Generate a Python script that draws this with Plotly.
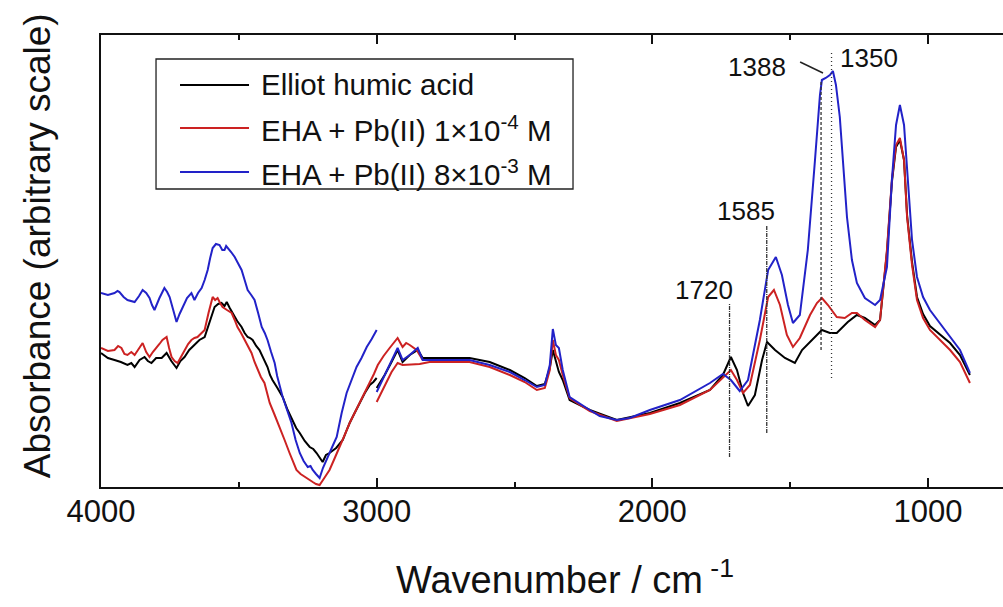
import plotly.graph_objects as go

# ---- Elliot humic acid (two recorded ranges) ----
eha_hi_wn = [4000, 3975, 3951, 3928, 3904, 3890, 3878, 3860, 3842, 3830, 3817, 3800, 3780,
             3770, 3762, 3745, 3726, 3712, 3697, 3680, 3661, 3643, 3624, 3606, 3588, 3575,
             3563, 3552, 3544, 3533, 3523, 3506, 3490, 3479, 3468, 3459, 3450, 3437, 3425,
             3410, 3396, 3387, 3378, 3360, 3341, 3323, 3305, 3292, 3279, 3261, 3243, 3230,
             3218, 3207, 3196, 3184, 3171, 3147, 3123, 3110, 3098, 3080, 3062, 3043, 3025,
             3012, 3000]
eha_hi_a = [1.35, 1.30, 1.28, 1.26, 1.23, 1.25, 1.21, 1.28, 1.31, 1.27, 1.25, 1.30, 1.30,
            1.33, 1.35, 1.27, 1.20, 1.27, 1.31, 1.38, 1.43, 1.48, 1.51, 1.65, 1.81, 1.84,
            1.85, 1.82, 1.86, 1.80, 1.75, 1.67, 1.61, 1.55, 1.51, 1.50, 1.48, 1.42, 1.38,
            1.30, 1.21, 1.13, 1.08, 1.00, 0.91, 0.78, 0.68, 0.60, 0.55, 0.47, 0.41, 0.39,
            0.35, 0.30, 0.26, 0.33, 0.35, 0.40, 0.48, 0.57, 0.65, 0.75, 0.85, 0.95, 1.03,
            1.06, 1.10]
eha_lo_wn = [3000, 2971, 2946, 2924, 2906, 2880, 2851, 2833, 2771, 2663, 2590, 2517, 2463,
             2419, 2390, 2372, 2361, 2350, 2339, 2325, 2300, 2227, 2129, 2009, 1900, 1791,
             1744, 1715, 1693, 1671, 1653, 1628, 1602, 1584, 1555, 1519, 1483, 1457, 1428,
             1385, 1356, 1331, 1291, 1258, 1229, 1192, 1174, 1149, 1131, 1116, 1102, 1087,
             1076, 1058, 1040, 1018, 993, 920, 884, 848]
eha_lo_a = [1.00, 1.13, 1.26, 1.38, 1.26, 1.33, 1.38, 1.30, 1.30, 1.30, 1.26, 1.18, 1.10,
            1.02, 1.04, 1.20, 1.38, 1.28, 1.16, 1.08, 0.88, 0.78, 0.68, 0.75, 0.85, 0.98,
            1.13, 1.31, 1.18, 0.95, 0.82, 0.93, 1.28, 1.46, 1.38, 1.30, 1.25, 1.38, 1.46,
            1.58, 1.55, 1.55, 1.66, 1.73, 1.70, 1.63, 1.68, 2.36, 3.06, 3.41, 3.48, 3.28,
            2.73, 2.26, 1.91, 1.74, 1.62, 1.45, 1.33, 1.13]

# ---- EHA + Pb(II) 1e-4 M ----
pb4_hi_wn = [4000, 3975, 3951, 3938, 3926, 3915, 3904, 3890, 3878, 3862, 3849, 3836, 3824,
             3812, 3799, 3788, 3777, 3762, 3753, 3744, 3733, 3722, 3710, 3697, 3684, 3672,
             3661, 3650, 3637, 3624, 3610, 3595, 3586, 3577, 3568, 3559, 3543, 3526, 3515,
             3505, 3492, 3479, 3466, 3454, 3443, 3432, 3420, 3407, 3398, 3388, 3370, 3352,
             3334, 3316, 3303, 3291, 3276, 3261, 3246, 3232, 3220, 3207, 3190, 3171, 3152,
             3134, 3116, 3098, 3080, 3062, 3043, 3025, 3010, 2996, 2975, 2953, 2938, 2924,
             2906, 2893, 2880, 2867, 2855, 2833]
pb4_hi_a = [1.40, 1.37, 1.38, 1.42, 1.40, 1.34, 1.33, 1.36, 1.33, 1.40, 1.45, 1.36, 1.31,
            1.36, 1.40, 1.44, 1.48, 1.51, 1.40, 1.31, 1.27, 1.25, 1.31, 1.38, 1.44, 1.48,
            1.50, 1.51, 1.55, 1.58, 1.75, 1.91, 1.88, 1.90, 1.85, 1.81, 1.78, 1.75, 1.68,
            1.61, 1.55, 1.48, 1.42, 1.35, 1.26, 1.18, 1.11, 1.05, 0.95, 0.85, 0.73, 0.61,
            0.48, 0.35, 0.26, 0.18, 0.14, 0.11, 0.08, 0.06, 0.04, 0.03, 0.10, 0.18, 0.30,
            0.41, 0.53, 0.65, 0.75, 0.85, 0.95, 1.05, 1.14, 1.23, 1.32, 1.40, 1.45, 1.50,
            1.41, 1.45, 1.43, 1.40, 1.38, 1.28]
pb4_lo_wn = [3000, 2971, 2946, 2924, 2906, 2844, 2808, 2663, 2590, 2517, 2463, 2419, 2390,
             2372, 2361, 2350, 2339, 2325, 2300, 2227, 2129, 2009, 1900, 1791, 1744, 1715,
             1693, 1671, 1646, 1610, 1580, 1559, 1537, 1512, 1490, 1465, 1428, 1403, 1385,
             1363, 1331, 1302, 1276, 1258, 1229, 1192, 1174, 1149, 1131, 1116, 1102, 1087,
             1076, 1058, 1040, 1018, 993, 920, 884, 848]
pb4_lo_a = [0.86, 1.03, 1.16, 1.25, 1.23, 1.24, 1.26, 1.26, 1.21, 1.13, 1.06, 0.98, 1.00,
            1.18, 1.48, 1.33, 1.28, 1.13, 0.90, 0.77, 0.67, 0.74, 0.83, 0.98, 1.10, 1.18,
            1.08, 0.95, 1.03, 1.48, 1.91, 1.98, 1.83, 1.53, 1.41, 1.50, 1.73, 1.85, 1.90,
            1.83, 1.71, 1.70, 1.75, 1.75, 1.68, 1.61, 1.68, 2.38, 3.08, 3.43, 3.50, 3.28,
            2.71, 2.23, 1.88, 1.70, 1.58, 1.38, 1.26, 1.05]

# ---- EHA + Pb(II) 8e-3 M ----
pb3_hi_wn = [4000, 3975, 3951, 3940, 3933, 3918, 3904, 3890, 3878, 3862, 3849, 3836, 3824,
             3815, 3806, 3788, 3770, 3760, 3751, 3738, 3726, 3715, 3704, 3688, 3672, 3666,
             3661, 3648, 3635, 3624, 3613, 3604, 3595, 3583, 3570, 3560, 3552, 3546, 3541,
             3528, 3515, 3502, 3490, 3479, 3468, 3455, 3443, 3430, 3417, 3406, 3396, 3383,
             3370, 3361, 3352, 3346, 3341, 3325, 3309, 3294, 3279, 3265, 3250, 3240, 3232,
             3220, 3207, 3195, 3181, 3163, 3145, 3127, 3109, 3091, 3073, 3055, 3036, 3018,
             3000]
pb3_hi_a = [1.95, 1.93, 1.95, 1.97, 1.96, 1.91, 1.88, 1.87, 1.86, 1.92, 1.98, 1.95, 1.90,
            1.83, 1.78, 1.90, 2.00, 1.96, 1.91, 1.78, 1.66, 1.74, 1.80, 1.90, 1.95, 1.91,
            1.88, 1.95, 2.00, 2.08, 2.18, 2.30, 2.40, 2.44, 2.43, 2.38, 2.38, 2.42, 2.40,
            2.36, 2.31, 2.25, 2.18, 2.08, 1.98, 1.93, 1.88, 1.75, 1.61, 1.55, 1.48, 1.36,
            1.25, 1.12, 1.01, 0.96, 0.91, 0.78, 0.65, 0.48, 0.35, 0.27, 0.21, 0.22, 0.18,
            0.14, 0.10, 0.20, 0.28, 0.40, 0.51, 0.75, 0.95, 1.08, 1.21, 1.30, 1.41, 1.49,
            1.58]
pb3_lo_wn = [3000, 2971, 2946, 2924, 2906, 2880, 2851, 2833, 2771, 2663, 2590, 2517, 2463,
             2419, 2390, 2372, 2361, 2350, 2339, 2325, 2300, 2263, 2227, 2191, 2129, 2082,
             2009, 1900, 1791, 1744, 1715, 1683, 1653, 1610, 1580, 1552, 1530, 1508, 1490,
             1465, 1436, 1410, 1392, 1385, 1371, 1356, 1345, 1334, 1320, 1294, 1276, 1258,
             1229, 1192, 1174, 1149, 1131, 1116, 1102, 1087, 1073, 1058, 1040, 1018, 993,
             931, 884, 848]
pb3_lo_a = [0.96, 1.13, 1.28, 1.40, 1.28, 1.33, 1.40, 1.28, 1.28, 1.28, 1.23, 1.16, 1.08,
            1.01, 1.03, 1.23, 1.59, 1.43, 1.40, 1.18, 0.91, 0.84, 0.78, 0.72, 0.68, 0.70,
            0.78, 0.88, 1.05, 1.14, 1.08, 0.97, 1.08, 1.68, 2.18, 2.31, 2.13, 1.83, 1.65,
            1.73, 2.38, 3.28, 3.93, 4.08, 4.10, 4.13, 4.17, 4.03, 3.71, 2.71, 2.28, 2.05,
            1.90, 1.83, 1.88, 2.21, 3.08, 3.63, 3.83, 3.63, 3.05, 2.48, 2.11, 1.91, 1.78,
            1.55, 1.38, 1.15]

# ---- band markers ----
band_wn = [1720, 1585, 1388, 1350]
band_top = [1.85, 2.63, 4.08, 4.35]
band_bottom = [0.31, 0.55, 1.38, 1.10]
band_dash = ["4px,1px,1px,1px", "4px,1px,1px,1px", "3px,2px", "1px,3px"]
band_label_wn = [1813, 1661, 1621, 1214]
band_label_a = [1.98, 2.77, 4.21, 4.30]

series_names = ["Elliot humic acid",
                "EHA + Pb(II) 1×10<sup>-4</sup> M",
                "EHA + Pb(II) 8×10<sup>-3</sup> M"]
series_colors = ["#000000", "#cc2222", "#2222c8"]

FONT = "Liberation Sans, Arial, sans-serif"

fig = go.Figure()

segments = [
    (eha_hi_wn, eha_hi_a, 0), (eha_lo_wn, eha_lo_a, 0),
    (pb4_hi_wn, pb4_hi_a, 1), (pb4_lo_wn, pb4_lo_a, 1),
    (pb3_hi_wn, pb3_hi_a, 2), (pb3_lo_wn, pb3_lo_a, 2),
]
for wn, a, k in segments:
    fig.add_trace(go.Scatter(
        x=wn, y=a, mode="lines", name=series_names[k], showlegend=False,
        line=dict(color=series_colors[k], width=2),
    ))

# vertical band markers
for wn, y0, y1, dash in zip(band_wn, band_bottom, band_top, band_dash):
    fig.add_shape(type="line", xref="x", yref="y", x0=wn, x1=wn, y0=y0, y1=y1,
                  line=dict(color="#333333", width=1.3, dash=dash))

# band labels
for wn, lx, ly in zip(band_wn, band_label_wn, band_label_a):
    fig.add_annotation(x=lx, y=ly, xref="x", yref="y", text=str(wn), showarrow=False,
                       font=dict(family=FONT, size=26, color="#111111"))

# leader for the 1388 shoulder
fig.add_shape(type="line", xref="x", yref="y", x0=1464, y0=4.26, x1=1381, y1=4.15,
              line=dict(color="#222222", width=1.5))

# legend box drawn in paper space
fig.add_shape(type="rect", xref="paper", yref="paper", x0=0.061, x1=0.5233,
              y0=0.6593, y1=0.9469, line=dict(color="#222222", width=1.3),
              fillcolor="white", layer="above")
legend_rows = [0.8894, 0.7942, 0.6969]
for name, color, yrow in zip(series_names, series_colors, legend_rows):
    fig.add_shape(type="line", xref="paper", yref="paper", x0=0.0876, x1=0.1641,
                  y0=yrow, y1=yrow, line=dict(color=color, width=2), layer="above")
    fig.add_annotation(x=0.1752, y=yrow, xref="paper", yref="paper", text=name,
                       showarrow=False, xanchor="left", yanchor="middle",
                       font=dict(family=FONT, size=29.5, color="#111111"))

# axis titles
fig.add_annotation(x=0.514, y=-0.20, xref="paper", yref="paper",
                   text="Wavenumber / cm<sup> -1</sup>", showarrow=False,
                   xanchor="center", yanchor="middle",
                   font=dict(family=FONT, size=38, color="#111111"))
fig.add_annotation(x=-0.071, y=0.535, xref="paper", yref="paper",
                   text="Absorbance (arbitrary scale)", showarrow=False, textangle=-90,
                   xanchor="center", yanchor="middle",
                   font=dict(family=FONT, size=37, color="#111111"))

fig.update_layout(
    width=1003, height=607,
    margin=dict(l=101, r=0, t=35, b=120),
    paper_bgcolor="white", plot_bgcolor="white",
    showlegend=False,
    font=dict(family=FONT, color="#111111"),
)
fig.update_xaxes(
    range=[4000, 728], showline=True, linecolor="#111111", linewidth=2,
    mirror="ticks", ticks="inside", ticklen=9, tickwidth=2, tickcolor="#111111",
    tick0=0, dtick=1000, showgrid=False, zeroline=False, ticklabelstandoff=-4,
    tickfont=dict(family=FONT, size=31, color="#111111"),
    minor=dict(ticks="inside", ticklen=5, tickwidth=2, tickcolor="#111111", dtick=500,
               showgrid=False),
)
fig.update_yaxes(
    range=[0.01, 4.53], showline=True, linecolor="#111111", linewidth=2,
    ticks="", showticklabels=False, showgrid=False, zeroline=False,
)

fig.write_html("out.html")
